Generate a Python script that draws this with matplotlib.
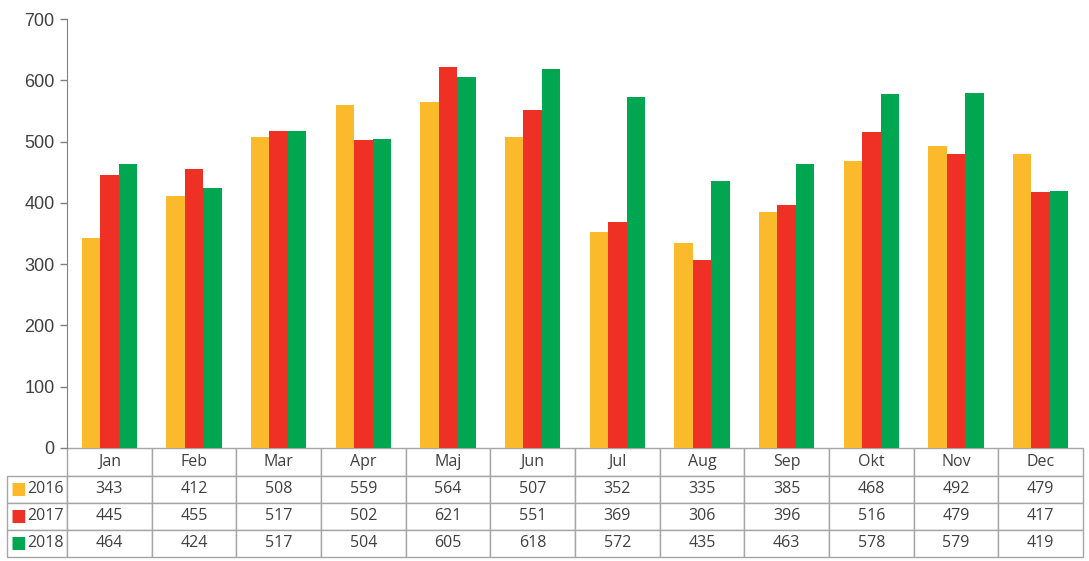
import matplotlib
matplotlib.use("Agg")
import matplotlib.pyplot as plt
import numpy as np

months = ["Jan", "Feb", "Mar", "Apr", "Maj", "Jun", "Jul", "Aug", "Sep", "Okt", "Nov", "Dec"]
years = ["2016", "2017", "2018"]
v2016 = [343, 412, 508, 559, 564, 507, 352, 335, 385, 468, 492, 479]
v2017 = [445, 455, 517, 502, 621, 551, 369, 306, 396, 516, 479, 417]
v2018 = [464, 424, 517, 504, 605, 618, 572, 435, 463, 578, 579, 419]
colors = ["#FBBA2B", "#EE3124", "#00A650"]
yticks = [0, 100, 200, 300, 400, 500, 600, 700]

series = [v2016, v2017, v2018]

fig = plt.figure(figsize=(10.89, 5.61), dpi=100)
W, H = 1089, 561
ax = fig.add_axes([67 / W, 1 - 448 / H, (1083 - 67) / W, (448 - 19) / H])

x = np.arange(len(months))
bw = 0.217
for i, (vals, c) in enumerate(zip(series, colors)):
    ax.bar(x + (i - 1) * bw, vals, width=bw, color=c, zorder=2)

ax.set_xlim(-0.5, len(months) - 0.5)
ax.set_ylim(0, 700)
ax.set_yticks(yticks)
ax.set_xticks([])
for s in ["top", "right", "bottom"]:
    ax.spines[s].set_visible(False)
ax.spines["left"].set_color("#808080")
ax.tick_params(axis="y", colors="#808080", labelcolor="#404040", labelsize=13,
               length=5, width=1, direction="out", pad=4)
for lab in ax.get_yticklabels():
    lab.set_fontfamily("Liberation Sans")

# table
ax_w = 1083 - 67
ax_h = 448 - 19
label_w = 60
col_w = ax_w / len(months)
row_h = [27.5, 27, 27, 27]
tot_h = sum(row_h)

cell_text = [[yr] + [str(v) for v in s] for yr, s in zip(years, series)]
tbl = ax.table(cellText=cell_text, colLabels=[""] + months,
               cellLoc="center",
               bbox=[-label_w / ax_w, -tot_h / ax_h, (ax_w + label_w) / ax_w, tot_h / ax_h])
tbl.auto_set_font_size(False)
for (r, c), cell in tbl.get_celld().items():
    cell.set_edgecolor("#A6A6A6")
    cell.set_linewidth(1.0)
    cell.get_text().set_fontsize(11.5)
    cell.get_text().set_color("#404040")
    cell.get_text().set_fontfamily("Open Sans")
    cell.set_height(row_h[r] / ax_h)
    cell.set_width((label_w if c == 0 else col_w) / ax_w)
    if c == 0:
        cell.PAD = 0.05
        cell.get_text().set_horizontalalignment("right")
        cell._loc = "right"
        if r == 0:
            cell.visible_edges = "open"

# legend keys in row label cells
yb = 0
centers = []
for r in range(len(row_h) - 1, 0, -1):
    centers.append(yb + row_h[r] / 2)
    yb += row_h[r]
centers = centers[::-1]
for i, c in enumerate(colors):
    ax.text((18.5 - 67) / ax_w, (-tot_h + centers[i]) / ax_h,
            "\u25A0", color=c, fontsize=12, ha="center", va="center",
            transform=ax.transAxes, family="DejaVu Sans")

fig.savefig("out.png", dpi=100)
